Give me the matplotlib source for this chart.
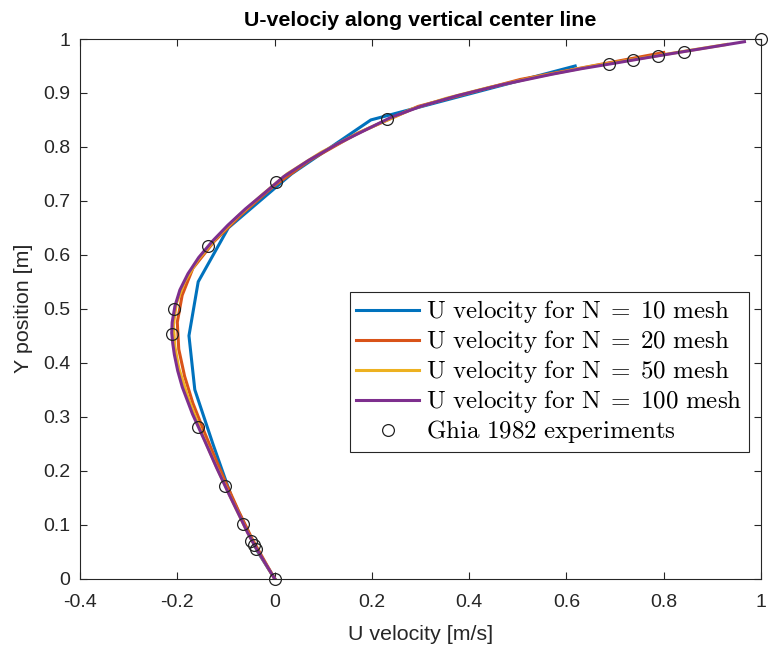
import matplotlib
matplotlib.use("Agg")
import matplotlib.pyplot as plt

plt.rcParams['font.family'] = ['Liberation Sans', 'DejaVu Sans']
plt.rcParams['mathtext.fontset'] = 'cm'

# ---- data ----
y_n10 = [0.0, 0.05, 0.15, 0.25, 0.35, 0.45, 0.55, 0.65, 0.75, 0.85, 0.95]
u_n10 = [0.0, -0.035, -0.088, -0.127, -0.164, -0.176, -0.157, -0.095, 0.035, 0.198, 0.618]

y_n20 = [0.0, 0.025, 0.075, 0.125, 0.175, 0.225, 0.275, 0.325, 0.375, 0.425, 0.475,
         0.525, 0.575, 0.625, 0.675, 0.725, 0.775, 0.825, 0.875, 0.925, 0.975]
u_n20 = [0.0, -0.016, -0.047, -0.074, -0.099, -0.123, -0.146, -0.168, -0.185, -0.197, -0.200,
         -0.190, -0.168, -0.124, -0.068, -0.005, 0.072, 0.170, 0.295, 0.505, 0.800]

y_n50 = [0.0, 0.01, 0.05, 0.09, 0.15, 0.21, 0.27, 0.33, 0.39, 0.43, 0.47, 0.51, 0.55,
         0.59, 0.63, 0.67, 0.71, 0.75, 0.79, 0.83, 0.87, 0.89, 0.91, 0.93, 0.95, 0.97, 0.99]
u_n50 = [0.0, -0.007, -0.034, -0.058, -0.090, -0.121, -0.150, -0.176, -0.197, -0.205, -0.208,
         -0.202, -0.185, -0.158, -0.121, -0.077, -0.027, 0.026, 0.096, 0.182, 0.282, 0.353,
         0.440, 0.540, 0.655, 0.793, 0.930]

y_n100 = [0.0, 0.005, 0.025, 0.055, 0.085, 0.105, 0.155, 0.205, 0.255, 0.305, 0.355, 0.385,
          0.415, 0.435, 0.455, 0.475, 0.505, 0.535, 0.565, 0.595, 0.625, 0.655, 0.685, 0.715,
          0.745, 0.775, 0.805, 0.835, 0.855, 0.875, 0.895, 0.915, 0.935, 0.945, 0.955, 0.965,
          0.975, 0.985, 0.995]
u_n100 = [0.0, -0.0035, -0.017, -0.037, -0.0555, -0.066, -0.093, -0.119, -0.1435, -0.1688,
          -0.1898, -0.1991, -0.2060, -0.2092, -0.2114, -0.2105, -0.2048, -0.1946, -0.178,
          -0.156, -0.128, -0.0959, -0.060, -0.020, 0.019, 0.070, 0.128, 0.195, 0.240, 0.300,
          0.376, 0.466, 0.572, 0.631, 0.698, 0.763, 0.830, 0.898, 0.966]

y_ghia = [1.0, 0.9766, 0.9688, 0.9609, 0.9531, 0.8516, 0.7344, 0.6172, 0.5, 0.4531,
          0.2813, 0.1719, 0.1016, 0.0703, 0.0625, 0.0547, 0.0]
u_ghia = [1.0, 0.84123, 0.78871, 0.73722, 0.68717, 0.23151, 0.00332, -0.13641, -0.20581,
          -0.21090, -0.15662, -0.10150, -0.06434, -0.04775, -0.04192, -0.03717, 0.0]

labels = [r'$\mathrm{U\ velocity\ for\ N\;=\;10\ mesh}$',
          r'$\mathrm{U\ velocity\ for\ N\;=\;20\ mesh}$',
          r'$\mathrm{U\ velocity\ for\ N\;=\;50\ mesh}$',
          r'$\mathrm{U\ velocity\ for\ N\;=\;100\ mesh}$',
          r'$\mathrm{Ghia\ 1982\ experiments}$']
colors = ['#0072BD', '#D95319', '#EDB120', '#7E2F8E']

fig = plt.figure(figsize=(7.68, 6.51), dpi=100)
ax = fig.add_axes([80/768, 1-578.5/651, (761-80)/768, (578.5-39)/651])

lw = 2.2
ax.plot(u_n10, y_n10, color=colors[0], lw=lw, label=labels[0])
ax.plot(u_n20, y_n20, color=colors[1], lw=lw, label=labels[1])
ax.plot(u_n50, y_n50, color=colors[2], lw=lw, label=labels[2])
ax.plot(u_n100, y_n100, color=colors[3], lw=lw, label=labels[3])
ax.plot(u_ghia, y_ghia, 'o', mfc='none', mec='#222222', mew=0.9, ms=8.5,
        label=labels[4], clip_on=False)

ax.set_xlim(-0.4, 1.0)
ax.set_ylim(0, 1.0)
ax.set_xticks([-0.4, -0.2, 0, 0.2, 0.4, 0.6, 0.8, 1])
ax.set_xticklabels(['-0.4', '-0.2', '0', '0.2', '0.4', '0.6', '0.8', '1'])
ax.set_yticks([0, 0.1, 0.2, 0.3, 0.4, 0.5, 0.6, 0.7, 0.8, 0.9, 1])
ax.set_yticklabels(['0', '0.1', '0.2', '0.3', '0.4', '0.5', '0.6', '0.7', '0.8', '0.9', '1'])

dark = '#262626'
for s in ax.spines.values():
    s.set_color(dark)
    s.set_linewidth(0.8)
ax.tick_params(direction='in', length=5, width=0.8, colors=dark, labelsize=14,
               top=True, right=True)
ax.tick_params(axis='x', pad=11)
ax.tick_params(axis='y', pad=7)

ax.set_xlabel('U velocity [m/s]', fontsize=15.4, color=dark, labelpad=10)
ax.set_ylabel('Y position [m]', fontsize=15.4, color=dark, labelpad=7)
ax.set_title('U-velociy along vertical center line', fontsize=15.4, fontweight='bold',
             color='black', pad=9)

leg = ax.legend(loc='upper left', bbox_to_anchor=(350/768, 1-292/651),
                bbox_transform=fig.transFigure, borderaxespad=0, fontsize=18,
                fancybox=False, framealpha=1, edgecolor=dark, handlelength=2.5,
                handletextpad=0.3, labelspacing=0.12, borderpad=0.25)
leg.get_frame().set_linewidth(0.8)

fig.savefig('out.png', dpi=100)
